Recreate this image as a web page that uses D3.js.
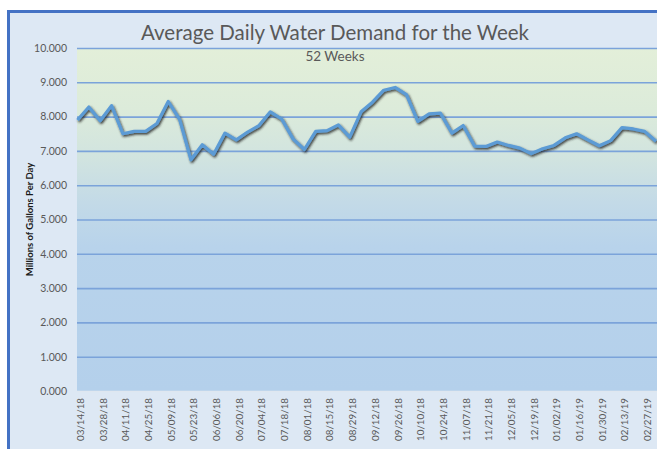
<!DOCTYPE html>
<html>
<head>
<meta charset="utf-8">
<script src="https://cdn.jsdelivr.net/npm/d3@7"></script>
<style>
  html, body { margin: 0; padding: 0; background: #fff; overflow: hidden; }
  svg { display: block; font-family: Lato, "Liberation Sans", sans-serif; }
</style>
</head>
<body>
<svg id="chart" width="657" height="449"></svg>
<script>
// week starting dates (every week, only every 2nd one gets a label)
var weeks = ["03/14/18","03/21/18","03/28/18","04/04/18","04/11/18","04/18/18","04/25/18","05/02/18",
  "05/09/18","05/16/18","05/23/18","05/30/18","06/06/18","06/13/18","06/20/18","06/27/18",
  "07/04/18","07/11/18","07/18/18","07/25/18","08/01/18","08/08/18","08/15/18","08/22/18",
  "08/29/18","09/05/18","09/12/18","09/19/18","09/26/18","10/03/18","10/10/18","10/17/18",
  "10/24/18","10/31/18","11/07/18","11/14/18","11/21/18","11/28/18","12/05/18","12/12/18",
  "12/19/18","12/26/18","01/02/19","01/09/19","01/16/19","01/23/19","01/30/19","02/06/19",
  "02/13/19","02/20/19","02/27/19","03/06/19"];

// millions of gallons per day
var demand = [7.90,8.28,7.88,8.32,7.50,7.57,7.57,7.80,
  8.44,7.92,6.74,7.18,6.90,7.52,7.32,7.55,
  7.74,8.14,7.93,7.35,7.04,7.57,7.59,7.76,
  7.40,8.14,8.42,8.77,8.85,8.64,7.86,8.08,
  8.10,7.52,7.74,7.14,7.13,7.26,7.16,7.08,
  6.92,7.06,7.16,7.38,7.50,7.32,7.15,7.30,
  7.68,7.64,7.57,7.28];

var yTicks = [0,1,2,3,4,5,6,7,8,9,10];
var title = "Average Daily Water Demand for the Week";
var subtitle = "52 Weeks";
var yTitle = "Millions of Gallons Per Day";

var W = 657, H = 449;
var plot = {left:77, top:48, right:660, bottom:391};

var svg = d3.select("#chart");
var defs = svg.append("defs");

// plot background: pale green at the top fading to light blue
var grad = defs.append("linearGradient").attr("id","bg").attr("x1",0).attr("y1",0).attr("x2",0).attr("y2",1);
[[0,"#e3efd9"],[0.18,"#dcebda"],[0.33,"#d0e3e0"],[0.45,"#c3dae7"],[0.58,"#b8d3eb"],[1,"#b4d0eb"]].forEach(function(s){
  grad.append("stop").attr("offset",s[0]).attr("stop-color",s[1]);
});

var shadow = defs.append("filter").attr("id","shadow").attr("x","-5%").attr("y","-20%").attr("width","110%").attr("height","140%");
shadow.append("feDropShadow").attr("dx",1.2).attr("dy",1.6).attr("stdDeviation",0.9)
  .attr("flood-color","#202020").attr("flood-opacity",0.85);

// chart frame (runs off the right and bottom of the picture)
svg.append("rect").attr("x",8.5).attr("y",11.5).attr("width",W+60).attr("height",H+60)
  .attr("fill","#dde8f4").attr("stroke","#4472c4").attr("stroke-width",3);

var x = d3.scalePoint().domain(weeks).range([77.5, 656]);
var y = d3.scaleLinear().domain([0,10]).range([plot.bottom, plot.top]);

svg.append("rect").attr("x",plot.left).attr("y",plot.top)
  .attr("width",plot.right-plot.left).attr("height",plot.bottom-plot.top)
  .attr("fill","url(#bg)");

// horizontal gridlines
var grid = svg.append("g").attr("transform","translate("+plot.left+",0)")
  .call(d3.axisLeft(y).tickValues(yTicks.slice(1)).tickSize(-(plot.right-plot.left)).tickFormat(""));
grid.select(".domain").remove();
grid.selectAll("line").attr("stroke","#7ba3da").attr("stroke-width",1.6);

// x axis baseline
svg.append("line").attr("x1",plot.left).attr("x2",plot.right).attr("y1",plot.bottom+0.5).attr("y2",plot.bottom+0.5)
  .attr("stroke","#dfe7f0").attr("stroke-width",1.5);

// y tick labels
var yAxis = svg.append("g").attr("transform","translate(67,0)")
  .call(d3.axisLeft(y).tickValues(yTicks).tickSize(0).tickPadding(0).tickFormat(d3.format(".3f")));
yAxis.select(".domain").remove();
yAxis.selectAll("text").attr("fill","#595959").style("font-size","10.5px").attr("font-family","Lato");

// x tick labels, rotated
var xAxis = svg.append("g").attr("transform","translate(0,"+plot.bottom+")")
  .call(d3.axisBottom(x).tickValues(weeks.filter(function(d,i){return i%2===0;})).tickSize(0));
xAxis.select(".domain").remove();
xAxis.selectAll("text")
  .attr("fill","#595959").style("font-size","9.8px").attr("font-family","Lato")
  .attr("text-anchor","end")
  .attr("transform","translate(2.5,7) rotate(-90)")
  .attr("x",0).attr("y",0).attr("dy","0.35em");

// data line
var line = d3.line().x(function(d,i){return x(weeks[i]);}).y(function(d){return y(d);});
svg.append("path").datum(demand)
  .attr("d",line).attr("fill","none")
  .attr("stroke","#5b9bd5").attr("stroke-width",3.2).attr("stroke-linejoin","round")
  .attr("filter","url(#shadow)");

// titles
svg.append("text").attr("x",335).attr("y",40).attr("text-anchor","middle")
  .attr("fill","#595959").style("font-size","20.5px").text(title);
svg.append("text").attr("x",335).attr("y",61).attr("text-anchor","middle")
  .attr("fill","#595959").style("font-size","13.5px").text(subtitle);
svg.append("text").attr("transform","translate(33,"+((plot.top+plot.bottom)/2)+") rotate(-90)")
  .attr("text-anchor","middle").attr("fill","#1a1a1a").style("font-size","9.5px").style("font-weight","bold")
  .text(yTitle);
</script>
</body>
</html>
